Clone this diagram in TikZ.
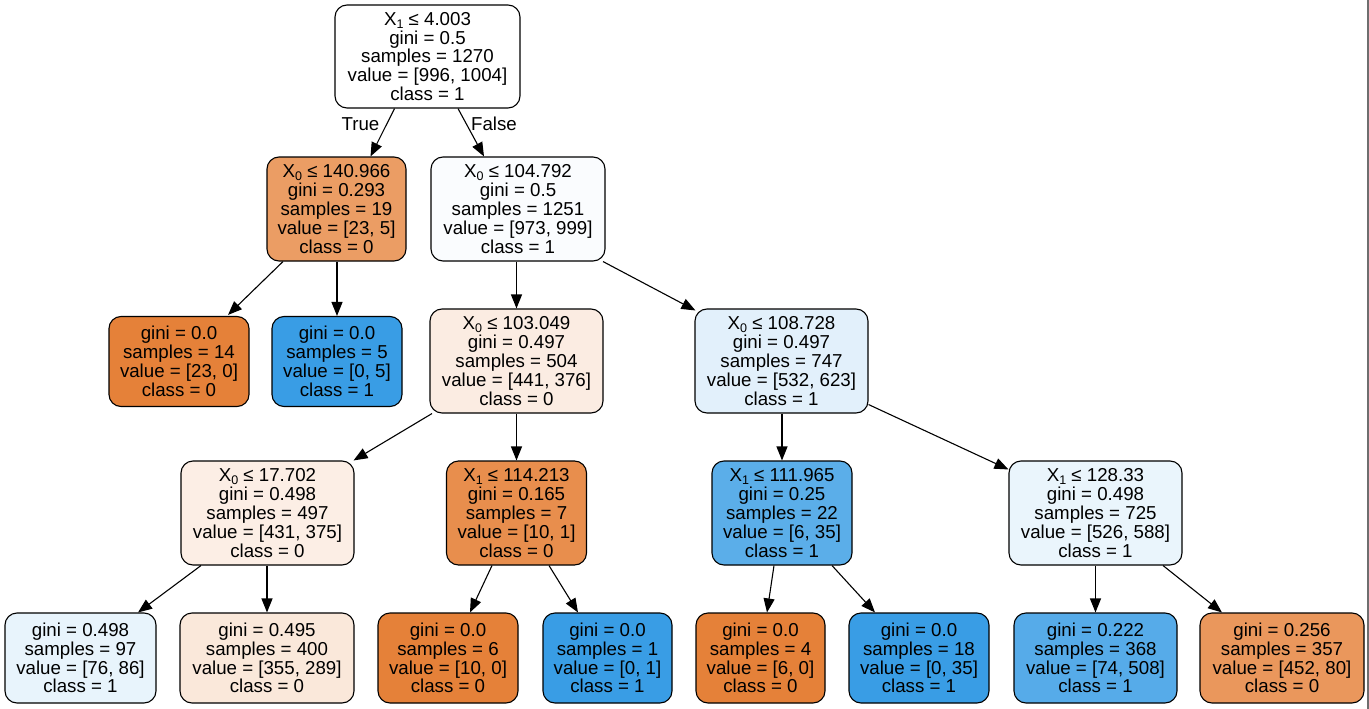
\documentclass[tikz,border=0pt]{standalone}
\usepackage{fontspec}
\setmainfont{Liberation Sans}
\usetikzlibrary{arrows.meta}
\newcommand{\Xsub}[1]{X\raisebox{-3pt}{\fontsize{12.5}{12.5}\selectfont #1}}
\definecolor{corange}{HTML}{E58139}
\definecolor{cblue}{HTML}{399DE5}
\definecolor{cnA}{HTML}{EB9D64}
\definecolor{cnB}{HTML}{FAFCFE}
\definecolor{cnC}{HTML}{FBECE2}
\definecolor{cnD}{HTML}{E2F0FB}
\definecolor{cnE}{HTML}{FCEEE5}
\definecolor{cnF}{HTML}{E88E4D}
\definecolor{cnG}{HTML}{5BAEE9}
\definecolor{cnH}{HTML}{EAF5FC}
\definecolor{clA}{HTML}{E8F4FC}
\definecolor{clB}{HTML}{FAE8DA}
\definecolor{clC}{HTML}{56ABE9}
\definecolor{clD}{HTML}{EA975C}
\definecolor{frame}{HTML}{6E6E6E}
\begin{document}
\begin{tikzpicture}[x=1pt,y=-1pt,
  tnode/.style={draw=black, line width=1.1pt, rounded corners=12pt, align=center,
    inner sep=0pt, font=\fontsize{18.7}{18.8}\selectfont, minimum height=104pt},
  tleaf/.style={tnode, minimum height=90pt},
  conn/.style={line width=1.1pt, -{Triangle[length=14pt,width=11pt]}},
  elabel/.style={font=\fontsize{18.7}{18.8}\selectfont, inner sep=0pt}]
\fill[white] (0,0) rectangle (1369,709);
\useasboundingbox (0,0) rectangle (1369,709);
\draw[frame, line width=2pt] (1368,0) -- (1368,709);

% level 0
\node[tnode, fill=white, minimum width=185pt, minimum height=103pt] (root) at (427.5,56.5)
  {\Xsub{1} ≤ 4.003\\gini = 0.5\\samples = 1270\\value = [996, 1004]\\class = 1};
% level 1
\node[tnode, fill=cnA, minimum width=139pt] (n1) at (336.5,209)
  {\Xsub{0} ≤ 140.966\\gini = 0.293\\samples = 19\\value = [23, 5]\\class = 0};
\node[tnode, fill=cnB, minimum width=174pt] (n2) at (518,209)
  {\Xsub{0} ≤ 104.792\\gini = 0.5\\samples = 1251\\value = [973, 999]\\class = 1};
% level 2
\node[tleaf, fill=corange, minimum width=140pt] (la) at (179,361.5)
  {gini = 0.0\\samples = 14\\value = [23, 0]\\class = 0};
\node[tleaf, fill=cblue, minimum width=130pt] (lb) at (337,361.5)
  {gini = 0.0\\samples = 5\\value = [0, 5]\\class = 1};
\node[tnode, fill=cnC, minimum width=173pt] (n3) at (516.5,361)
  {\Xsub{0} ≤ 103.049\\gini = 0.497\\samples = 504\\value = [441, 376]\\class = 0};
\node[tnode, fill=cnD, minimum width=173pt] (n4) at (781.5,361)
  {\Xsub{0} ≤ 108.728\\gini = 0.497\\samples = 747\\value = [532, 623]\\class = 1};
% level 3
\node[tnode, fill=cnE, minimum width=173pt] (n5) at (267.5,513)
  {\Xsub{0} ≤ 17.702\\gini = 0.498\\samples = 497\\value = [431, 375]\\class = 0};
\node[tnode, fill=cnF, minimum width=140pt] (n6) at (516.5,513)
  {\Xsub{1} ≤ 114.213\\gini = 0.165\\samples = 7\\value = [10, 1]\\class = 0};
\node[tnode, fill=cnG, minimum width=140pt] (n7) at (782,513)
  {\Xsub{1} ≤ 111.965\\gini = 0.25\\samples = 22\\value = [6, 35]\\class = 1};
\node[tnode, fill=cnH, minimum width=173pt] (n8) at (1095.5,513)
  {\Xsub{1} ≤ 128.33\\gini = 0.498\\samples = 725\\value = [526, 588]\\class = 1};
% level 4
\node[tleaf, fill=clA, minimum width=151pt] (l1) at (80.5,658)
  {gini = 0.498\\samples = 97\\value = [76, 86]\\class = 1};
\node[tleaf, fill=clB, minimum width=174pt] (l2) at (267,658)
  {gini = 0.495\\samples = 400\\value = [355, 289]\\class = 0};
\node[tleaf, fill=corange, minimum width=140pt] (l3) at (448,658)
  {gini = 0.0\\samples = 6\\value = [10, 0]\\class = 0};
\node[tleaf, fill=cblue, minimum width=129pt] (l4) at (607.5,658)
  {gini = 0.0\\samples = 1\\value = [0, 1]\\class = 1};
\node[tleaf, fill=corange, minimum width=129pt] (l5) at (760.5,658)
  {gini = 0.0\\samples = 4\\value = [6, 0]\\class = 0};
\node[tleaf, fill=cblue, minimum width=140pt] (l6) at (919,658)
  {gini = 0.0\\samples = 18\\value = [0, 35]\\class = 1};
\node[tleaf, fill=clC, minimum width=163pt] (l7) at (1095.5,658)
  {gini = 0.222\\samples = 368\\value = [74, 508]\\class = 1};
\node[tleaf, fill=clD, minimum width=164pt] (l8) at (1282,658)
  {gini = 0.256\\samples = 357\\value = [452, 80]\\class = 0};

% edge labels
\node[elabel] (tl) at (360.5,124) {True};
\node[elabel] (fl) at (494,124) {False};

% connectors
\draw[conn] ([xshift=-33pt]root.south) -- ([xshift=34pt]n1.north);
\draw[conn] ([xshift=30.5pt]root.south) -- ([xshift=-34pt]n2.north);
\draw[conn] ([xshift=-53.5pt]n1.south) -- ([xshift=49pt,yshift=1pt]la.north);
\draw[conn] (lb.north |- n1.south) -- (lb.north);
\draw[conn] (n3.north |- n2.south) -- (n3.north);
\draw[conn] ([xshift=85pt]n2.south) -- ([xshift=1pt,yshift=-2pt]n4.north west);
\draw[conn] ([xshift=-84.5pt]n3.south) -- ([xshift=-1pt]n5.north east);
\draw[conn] (n6.north |- n3.south) -- (n6.north);
\draw[conn] (n7.north |- n4.south) -- (n7.north);
\draw[conn] ([yshift=9pt]n4.south east) -- ([yshift=-9pt]n8.north west);
\draw[conn] ([xshift=-66.5pt]n5.south) -- ([xshift=57.5pt]l1.north);
\draw[conn] (l2.north |- n5.south) -- (l2.north);
\draw[conn] ([xshift=-24.5pt]n6.south) -- ([xshift=22pt]l3.north);
\draw[conn] ([xshift=32.5pt]n6.south) -- ([xshift=-29.5pt]l4.north);
\draw[conn] ([xshift=-8pt]n7.south) -- ([xshift=6.5pt]l5.north);
\draw[conn] ([xshift=50pt]n7.south) -- ([xshift=-44pt]l6.north);
\draw[conn] (l7.north |- n8.south) -- (l7.north);
\draw[conn] ([xshift=67.5pt]n8.south) -- ([xshift=-60pt]l8.north);
\end{tikzpicture}
\end{document}
